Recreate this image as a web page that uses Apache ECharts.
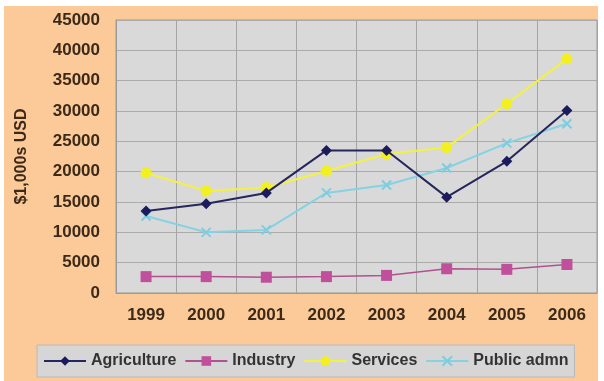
<!DOCTYPE html>
<html>
<head>
<meta charset="utf-8">
<script src="https://cdn.jsdelivr.net/npm/echarts@6/dist/echarts.min.js"></script>
<style>
html,body{margin:0;padding:0;background:#ffffff;}
#wrap{position:relative;width:604px;height:381px;overflow:hidden;}
#bg{position:absolute;left:4px;top:6px;width:594px;height:375px;background:#FCCA98;}
#chart{position:absolute;left:0;top:0;width:604px;height:381px;}
</style>
</head>
<body>
<div id="wrap"><div id="bg"></div><div id="chart"></div></div>
<script>
const years = ['1999','2000','2001','2002','2003','2004','2005','2006'];
const agriculture = [13500, 14700, 16500, 23500, 23500, 15800, 21700, 30100];
const industry = [2700, 2700, 2600, 2700, 2900, 4000, 3900, 4700];
const services = [19800, 16800, 17400, 20100, 22900, 24000, 31200, 38600];
const publicAdmn = [12700, 10000, 10400, 16500, 17800, 20600, 24700, 27900];
const yAxisName = '$1,000s USD';

const xPath = 'path://M0,0 L10,10 M10,0 L0,10';

const chart = echarts.init(document.getElementById('chart'), null, {renderer: 'canvas'});
chart.setOption({
  backgroundColor: 'transparent',
  animation: false,
  textStyle: {fontFamily: 'Liberation Sans, Arial, sans-serif'},
  grid: {left: 116, right: 7, top: 20, bottom: 88, show: true, backgroundColor: '#D9D9D9', borderColor: '#9A9A9A', borderWidth: 1},
  legend: {
    left: 37, top: 345,
    itemWidth: 42, itemHeight: 12, itemGap: 8,
    padding: [8, 6, 8, 6],
    backgroundColor: '#D6D6D6',
    borderColor: '#B8B8B8', borderWidth: 1,
    textStyle: {fontSize: 16, fontWeight: 'bold', color: '#333333', fontFamily: 'Liberation Sans, Arial, sans-serif'},
    data: ['Agriculture', 'Industry', 'Services', 'Public admn']
  },
  xAxis: {
    type: 'category', data: years, boundaryGap: true,
    axisLine: {show: true, lineStyle: {color: '#9A9A9A'}},
    axisTick: {show: false},
    axisLabel: {margin: 14, fontSize: 17, fontWeight: 'bold', color: '#3B2A1A'},
    splitLine: {show: true, lineStyle: {color: '#A4A4A4', width: 1}}
  },
  yAxis: {
    type: 'value', min: 0, max: 45000, interval: 5000,
    name: yAxisName, nameLocation: 'middle', nameGap: 86, nameRotate: 90,
    nameTextStyle: {fontSize: 16, fontWeight: 'bold', color: '#3B2A1A'},
    axisLine: {show: true, lineStyle: {color: '#9A9A9A'}},
    axisTick: {show: false},
    axisLabel: {margin: 16, fontSize: 17, fontWeight: 'bold', color: '#3B2A1A', formatter: function (v) { return String(v); }},
    splitLine: {show: true, lineStyle: {color: '#ABABAB', width: 1}}
  },
  series: [
    {name: 'Agriculture', type: 'line', data: agriculture, symbol: 'diamond', symbolSize: 11,
     lineStyle: {color: '#26265E', width: 2}, itemStyle: {color: '#1C1C5C'}, z: 5},
    {name: 'Industry', type: 'line', data: industry, symbol: 'rect', symbolSize: 11,
     lineStyle: {color: '#B0528F', width: 1.5}, itemStyle: {color: '#C0509C'}},
    {name: 'Services', type: 'line', data: services, symbol: 'circle', symbolSize: 11,
     lineStyle: {color: '#F4F240', width: 2}, itemStyle: {color: '#F2F020'}},
    {name: 'Public admn', type: 'line', data: publicAdmn, symbol: xPath, symbolSize: 9,
     lineStyle: {color: '#86D2E2', width: 2}, itemStyle: {color: 'rgba(0,0,0,0)', borderColor: '#7CCDE0', borderWidth: 2}}
  ]
});
</script>
</body>
</html>
